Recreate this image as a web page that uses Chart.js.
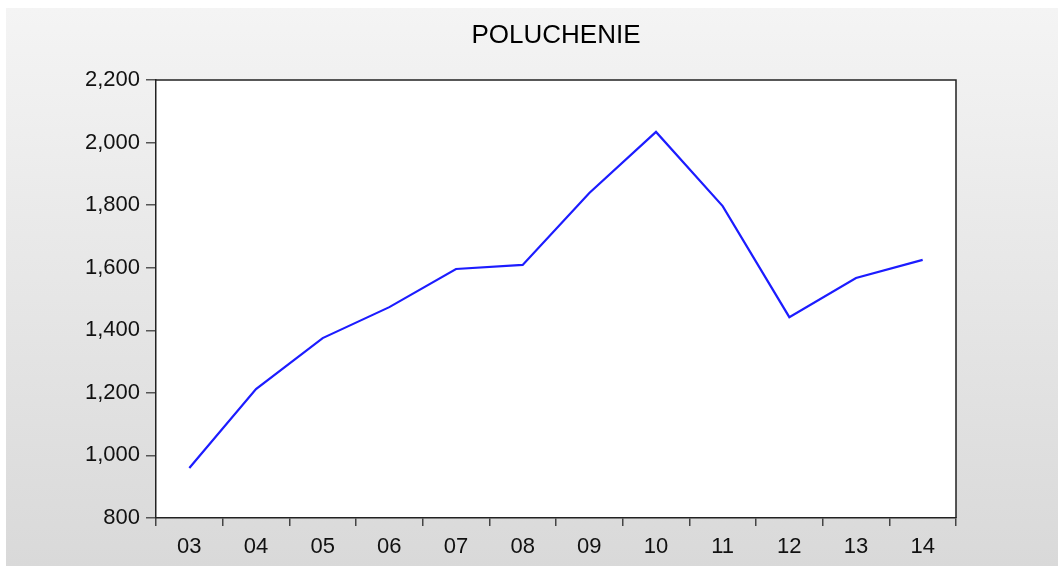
<!DOCTYPE html>
<html lang="en">
<head>
  <meta charset="UTF-8">
  <title>POLUCHENIE</title>
  <script src="https://cdn.jsdelivr.net/npm/chart.js"></script>
  <style>
    html, body { margin: 0; padding: 0; background: #fff; }
    #chart { display: block; }
  </style>
</head>
<body>
  <canvas id="chart" width="1058" height="566"></canvas>

  <script>
    // data
    var years = ['03', '04', '05', '06', '07', '08', '09', '10', '11', '12', '13', '14'];
    var poluchenie = [960, 1212, 1375, 1474, 1596, 1609, 1839, 2034, 1797, 1442, 1567, 1625];
    var yTicks = [800, 1000, 1200, 1400, 1600, 1800, 2000, 2200];

    // grey panel behind, white plot box, frame on top/right and title
    var panel = {
      id: 'panel',
      beforeDraw: function(chart) {
        var ctx = chart.ctx, a = chart.chartArea;
        ctx.save();
        ctx.fillStyle = '#fff';
        ctx.fillRect(0, 0, chart.width, chart.height);
        var g = ctx.createLinearGradient(0, 8, 0, chart.height);
        g.addColorStop(0, '#f4f4f4');
        g.addColorStop(1, '#d9d9d9');
        ctx.fillStyle = g;
        ctx.fillRect(6, 8, chart.width - 6, chart.height - 8);
        ctx.fillStyle = '#fff';
        ctx.fillRect(a.left, a.top, a.right - a.left, a.bottom - a.top);
        ctx.restore();
      },
      afterDraw: function(chart) {
        var ctx = chart.ctx, a = chart.chartArea;
        ctx.save();
        ctx.strokeStyle = '#222';
        ctx.lineWidth = 1.5;
        ctx.beginPath();
        ctx.moveTo(a.left, a.top);
        ctx.lineTo(a.right, a.top);
        ctx.lineTo(a.right, a.bottom);
        ctx.stroke();
        ctx.fillStyle = '#000';
        ctx.font = '26px "Liberation Sans", Arial, sans-serif';
        ctx.textAlign = 'center';
        ctx.textBaseline = 'middle';
        ctx.fillText('POLUCHENIE', (a.left + a.right) / 2, 36);
        ctx.restore();
      }
    };

    var ctx = document.getElementById('chart').getContext('2d');
    new Chart(ctx, {
      type: 'line',
      data: {
        labels: years,
        datasets: [{
          label: 'POLUCHENIE',
          data: poluchenie,
          borderColor: '#1c1cff',
          borderWidth: 2.2,
          pointRadius: 0,
          tension: 0,
          fill: false
        }]
      },
      options: {
        responsive: false,
        animation: false,
        layout: { padding: { left: 0, right: 102, top: 80, bottom: 0 } },
        plugins: {
          legend: { display: false },
          tooltip: { enabled: false }
        },
        scales: {
          x: {
            offset: true,
            grid: {
              offset: true,
              drawOnChartArea: false,
              drawTicks: true,
              tickLength: 8,
              color: '#444',
              lineWidth: 1.5
            },
            border: { display: true, color: '#222', width: 1.5 },
            ticks: {
              color: '#111',
              padding: 8,
              maxRotation: 0,
              font: { family: '"Liberation Sans", Arial, sans-serif', size: 22 }
            },
            afterFit: function(scale) { scale.height = 48; }
          },
          y: {
            min: 800,
            max: 2200,
            afterBuildTicks: function(scale) {
              scale.ticks = yTicks.map(function(v) { return { value: v }; });
            },
            grid: {
              drawOnChartArea: false,
              drawTicks: true,
              tickLength: 10,
              color: '#555',
              lineWidth: 1.5
            },
            border: { display: true, color: '#222', width: 1.5 },
            ticks: {
              color: '#111',
              padding: 6,
              font: { family: '"Liberation Sans", Arial, sans-serif', size: 22 },
              callback: function(v) { return v.toLocaleString('en-US'); }
            },
            afterFit: function(scale) { scale.width = 156; }
          }
        }
      },
      plugins: [panel]
    });
  </script>
</body>
</html>
